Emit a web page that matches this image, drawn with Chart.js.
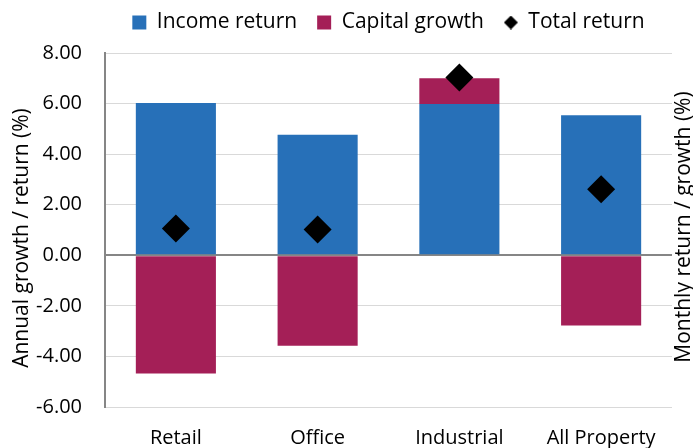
<!DOCTYPE html>
<html>
<head>
<meta charset="utf-8">
<script src="https://cdn.jsdelivr.net/npm/chart.js@4.4.1/dist/chart.umd.min.js"></script>
<style>
  html, body { margin: 0; padding: 0; background: #fff; }
  #wrap { width: 693px; height: 448px; }
</style>
</head>
<body>
<div id="wrap"><canvas id="grafico"></canvas></div>
<script>
// dados
const categorias = ["Retail", "Office", "Industrial", "All Property"];
const rendaIncome = [6.02, 4.77, 5.98, 5.54];
const crescimentoCapital = [-4.68, -3.58, 1.02, -2.78];
const retornoTotal = [1.06, 1.02, 7.03, 2.61];
const ticksY = [-6, -4, -2, 0, 2, 4, 6, 8];

const corAzul = "#2770b8";
const corVinho = "#a41f57";
const fonte = "'Open Sans', 'Liberation Sans', sans-serif";

// losango pequeno para a legenda
const losango = document.createElement("canvas");
losango.width = 14;
losango.height = 14;
const lctx = losango.getContext("2d");
lctx.fillStyle = "#000";
lctx.beginPath();
lctx.moveTo(7, 0);
lctx.lineTo(14, 7);
lctx.lineTo(7, 14);
lctx.lineTo(0, 7);
lctx.closePath();
lctx.fill();

// títulos dos eixos (os dois lidos de baixo para cima)
function tituloVertical(ctx, texto, x, y) {
    ctx.save();
    ctx.translate(x, y);
    ctx.rotate(-Math.PI / 2);
    ctx.font = "21px " + fonte;
    ctx.fillStyle = "#000";
    ctx.textAlign = "center";
    ctx.textBaseline = "middle";
    ctx.fillText(texto, 0, 0);
    ctx.restore();
}

const titulosEixos = {
    id: "titulosEixos",
    afterDraw(chart) {
        const area = chart.chartArea;
        const meio = (area.top + area.bottom) / 2;
        tituloVertical(chart.ctx, "Annual growth / return (%)", 22, meio + 8);
        tituloVertical(chart.ctx, "Monthly return / growth (%)", area.right + 12, meio - 3);
    }
};

// mais espaço entre a legenda e o gráfico
const espacoLegenda = {
    id: "espacoLegenda",
    beforeLayout(chart) {
        const lg = chart.legend;
        if (lg && !lg._ajustada) {
            const fitOriginal = lg.fit;
            lg.fit = function () {
                fitOriginal.call(this);
                this.height += 10;
            };
            lg._ajustada = true;
        }
    }
};

const ctx = document.getElementById("grafico").getContext("2d");

new Chart(ctx, {
    data: {
        labels: categorias,
        datasets: [
            {
                type: "bar",
                label: "Income return",
                data: rendaIncome,
                backgroundColor: corAzul,
                stack: "barras",
                categoryPercentage: 1,
                barPercentage: 0.565,
                order: 2
            },
            {
                type: "bar",
                label: "Capital growth",
                data: crescimentoCapital,
                backgroundColor: corVinho,
                stack: "barras",
                categoryPercentage: 1,
                barPercentage: 0.565,
                order: 2
            },
            {
                type: "line",
                label: "Total return",
                data: retornoTotal,
                stack: "total",
                showLine: false,
                pointStyle: "rectRot",
                pointRadius: 14,
                pointHoverRadius: 14,
                backgroundColor: "#000",
                borderColor: "#000",
                borderWidth: 0,
                order: 1
            }
        ]
    },
    options: {
        responsive: true,
        maintainAspectRatio: false,
        animation: false,
        layout: { padding: { left: 0, right: 21, top: -8, bottom: 0 } },
        plugins: {
            tooltip: { enabled: false },
            legend: {
                position: "top",
                fullSize: false,
                labels: {
                    usePointStyle: true,
                    boxWidth: 14,
                    boxHeight: 14,
                    padding: 20,
                    color: "#000",
                    font: { family: fonte, size: 21 },
                    generateLabels(chart) {
                        return chart.data.datasets.map((ds, i) => ({
                            text: ds.label,
                            fillStyle: ds.backgroundColor,
                            strokeStyle: ds.backgroundColor,
                            lineWidth: 0,
                            pointStyle: ds.type === "line" ? losango : "rect",
                            datasetIndex: i,
                            hidden: false
                        }));
                    }
                }
            }
        },
        scales: {
            x: {
                stacked: true,
                grid: { display: false },
                border: { display: false },
                ticks: { color: "#000", font: { family: fonte, size: 20 }, padding: 11, maxRotation: 0 },
                afterFit(scale) { scale.height = 41; }
            },
            y: {
                stacked: true,
                min: -6,
                max: 8,
                afterBuildTicks(scale) {
                    scale.ticks = ticksY.map(v => ({ value: v }));
                },
                afterFit(scale) { scale.width = 105; },
                ticks: {
                    color: "#000",
                    font: { family: fonte, size: 20 },
                    padding: 23,
                    callback: v => v.toFixed(2)
                },
                grid: {
                    drawTicks: false,
                    color: c => c.tick && c.tick.value === 0 ? "#868686" : "#d9d9d9",
                    lineWidth: c => c.tick && c.tick.value === 0 ? 2 : 1
                },
                border: { color: "#868686", width: 2 }
            }
        }
    },
    plugins: [titulosEixos, espacoLegenda]
});
</script>
</body>
</html>
